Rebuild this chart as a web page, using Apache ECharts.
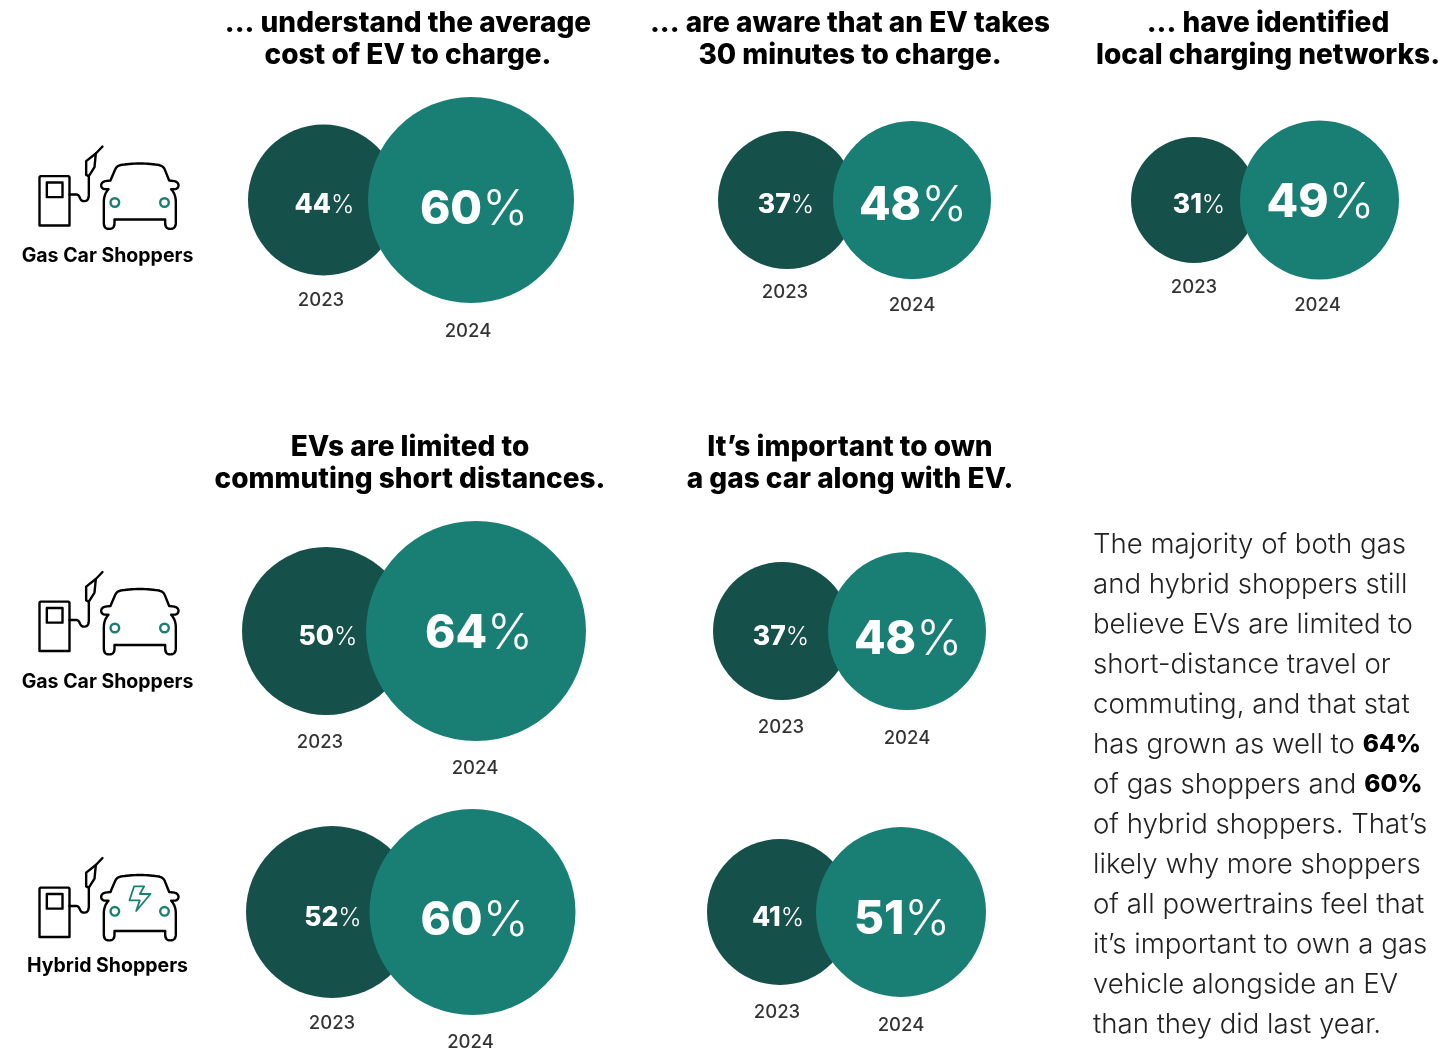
<!DOCTYPE html>
<html>
<head>
<meta charset="utf-8">
<style>html,body{margin:0;padding:0;background:#fff}#chart{width:1444px;height:1051px}</style>
<script src="https://cdn.jsdelivr.net/npm/echarts@6/dist/echarts.min.js"></script>
</head>
<body>
<div id="chart"></div>
<script>
// Survey results, share of shoppers agreeing in each year
const years = ['2023', '2024'];
const values2023 = [44, 37, 31, 50, 37, 52, 41];
const values2024 = [60, 48, 49, 64, 48, 60, 51];

const headings = [
  ['... understand the average', 'cost of EV to charge.'],
  ['... are aware that an EV takes', '30 minutes to charge.'],
  ['... have identified', 'local charging networks.'],
  ['EVs are limited to', 'commuting short distances.'],
  ['It\u2019s important to own', 'a gas car along with EV.']
];
const shopperLabels = ['Gas Car Shoppers', 'Gas Car Shoppers', 'Hybrid Shoppers'];
const bodyLines = [
  'The majority of both gas',
  'and hybrid shoppers still',
  'believe EVs are limited to',
  'short-distance travel or',
  'commuting, and that stat',
  'has grown as well to {b|64%}',
  'of gas shoppers and {b|60%}',
  'of hybrid shoppers. That\u2019s',
  'likely why more shoppers',
  'of all powertrains feel that',
  'it\u2019s important to own a gas',
  'vehicle alongside an EV',
  'than they did last year.'
];

// Panel layout: bubble centres, diameters, label nudges
const panelBox = [
  { c: [323.5, 471], y: 200, d: [151, 206], lab: [[1, 5], [3, 10]], yr: [[-2.5, 100], [-3, 131]] },
  { c: [787, 912], y: 200, d: [138, 158], lab: [[-1, 5], [1, 6]], yr: [[-2, 92], [0, 105]] },
  { c: [1194, 1319.5], y: 200, d: [126, 159], lab: [[5, 5], [1, 3]], yr: [[0, 87], [-2, 105]] },
  { c: [326, 476], y: 631, d: [168, 220], lab: [[2, 6], [3, 3]], yr: [[-6, 111], [-1, 137]] },
  { c: [782, 907], y: 631, d: [138, 158], lab: [[-1, 6], [1, 9]], yr: [[-1, 96], [0, 107]] },
  { c: [332, 472.5], y: 912, d: [172, 206], lab: [[1, 6], [2, 9]], yr: [[0, 111], [-2, 130]] },
  { c: [780, 901], y: 912, d: [146, 170], lab: [[-2, 6], [1, 8]], yr: [[-3, 100], [0, 113]] }
];
const smallSizes = { n: 26.5, p: 25 };
const largeSizes = { n: 46, p: 49 };
const colorDark = '#16504a';
const colorTeal = '#197f74';
const headFont = 'Inter';
const headCentres = [[408, 24], [850, 24], [1268, 24], [410, 448], [850, 448]];

// Icon outlines, drawn in a 3x local space
const pumpBody = 'M62 122 L142 122 C146 122 147 124 147 127 L147 270 L57 270 L57 127 C57 124 58 122 62 122 Z';
const pumpScreen = 'M79 141 L126 141 L126 185 L79 185 Z';
const pumpHose = 'M147 177 L168 177 C180 178 176 197 190 197 C203 197 205 188 205 175 L205 122';
const pumpNozzle = 'M197 77 L226 54 L222 95 L205 122 L197 118 Z';
const pumpTip = 'M226 54 L246 33';
const carOutline = 'M272 130 L285 100 C290 90 300 88 312 87 C340 83 376 83 404 87 C416 88 426 90 432 100 L446 135 L462 137 C478 140 478 160 462 161 L452 161 C462 172 466 185 466 200 L466 262 C466 276 458 280 450 280 C440 280 434 276 434 262 L434 252 L282 252 L282 262 C282 276 276 280 266 280 C256 280 250 276 250 262 L250 200 C250 185 254 172 264 161 L254 161 C238 160 238 140 254 137 L270 135 Z';
const boltOutline = 'M341 118 L371 118 L358 141 L390 141 L347 192 L358 160 L327 160 Z';

function flatten(path) {
  const t = path.match(/[MLCZ]|-?[\d.]+/g);
  const pts = [];
  let i = 0, cur = [0, 0];
  while (i < t.length) {
    const op = t[i++];
    if (op === 'M' || op === 'L') {
      cur = [+t[i++] / 3, +t[i++] / 3];
      pts.push(cur);
    } else if (op === 'C') {
      const p = [];
      for (let k = 0; k < 6; k++) p.push(+t[i++] / 3);
      const s = cur;
      for (let n = 1; n <= 12; n++) {
        const u = n / 12, v = 1 - u;
        pts.push([
          v*v*v*s[0] + 3*v*v*u*p[0] + 3*v*u*u*p[2] + u*u*u*p[4],
          v*v*v*s[1] + 3*v*v*u*p[1] + 3*v*u*u*p[3] + u*u*u*p[5]
        ]);
      }
      cur = [p[4], p[5]];
    } else if (op === 'Z') {
      pts.push(pts[0]);
    }
  }
  return pts;
}
function stroke(path, color, w) {
  return {
    type: 'polyline',
    shape: { points: flatten(path) },
    style: { fill: null, stroke: color || '#000', lineWidth: w || 2.4, lineJoin: 'round', lineCap: 'round' }
  };
}
function icon(oy, hybrid) {
  const wheel = cx => ({
    type: 'circle',
    shape: { cx: cx / 3, cy: (hybrid ? 193 : 201) / 3, r: 4.3 },
    style: { fill: null, stroke: colorTeal, lineWidth: 2.4 }
  });
  const kids = [stroke(pumpBody), stroke(pumpScreen), stroke(pumpHose), stroke(pumpNozzle), stroke(pumpTip),
    stroke(carOutline), wheel(283), wheel(432)];
  if (hybrid) kids.push(stroke(boltOutline, colorTeal, 1.8));
  return { type: 'group', x: 20.5, y: oy, children: kids };
}

const graphics = [];
headings.forEach((lines, i) => {
  lines.forEach((line, j) => {
    graphics.push({
      type: 'text', x: headCentres[i][0], y: headCentres[i][1] + j * 32,
      style: { text: line, fill: '#000', font: '800 28px ' + headFont, textAlign: 'center', textVerticalAlign: 'middle' }
    });
  });
});
[135.5, 561, 847].forEach((oy, i) => {
  graphics.push(icon(oy, i === 2));
  graphics.push({
    type: 'text', x: 107.5, y: [256.5, 682.5, 966.5][i],
    style: { text: shopperLabels[i], fill: '#000', font: '700 19.5px ' + headFont, textAlign: 'center', textVerticalAlign: 'middle' }
  });
});
bodyLines.forEach((line, i) => {
  graphics.push({
    type: 'text', x: 1093, y: 545 + i * 40,
    style: {
      text: line, fill: '#222', font: '300 27.6px ' + headFont, textAlign: 'left', textVerticalAlign: 'middle',
      rich: { b: { font: '800 24.5px ' + headFont, fill: '#000' } }
    }
  });
});

// One small grid per panel: the category axis places each year, bubble size follows its value
const grids = [], xAxes = [], yAxes = [], series = [];
panelBox.forEach((p, i) => {
  const step = p.c[1] - p.c[0];
  grids.push({ left: p.c[0] - step / 2, width: step * 2, top: p.y - 10, height: 20 });
  xAxes.push({ type: 'category', gridIndex: i, data: years, show: false, boundaryGap: true });
  yAxes.push({ type: 'value', gridIndex: i, min: -1, max: 1, show: false });
  const vals = [values2023[i], values2024[i]];
  const scale = [p.d[0] / vals[0], p.d[1] / vals[1]];
  series.push({
    name: 'panel-' + i,
    type: 'scatter',
    xAxisIndex: i, yAxisIndex: i,
    silent: true,
    data: vals.map((v, k) => {
      const fs = k === 0 ? smallSizes : largeSizes;
      return {
        value: [years[k], 0, v],
        symbolSize: v * scale[k],
        itemStyle: { color: k === 0 ? colorDark : colorTeal, opacity: 1 },
        label: {
          show: true, position: 'inside', offset: p.lab[k],
          formatter: '{n|' + v + '}{p|%}',
          rich: {
            n: { fontFamily: headFont, fontWeight: 800, fontSize: fs.n, color: '#fff' },
            p: { fontFamily: headFont, fontWeight: 300, fontSize: fs.p, color: '#fff' }
          }
        }
      };
    })
  });
  // Year captions sit beneath each bubble
  series.push({
    name: 'years-' + i,
    type: 'scatter',
    xAxisIndex: i, yAxisIndex: i,
    silent: true,
    symbolSize: 1,
    itemStyle: { color: 'transparent' },
    data: vals.map((v, k) => ({
      value: [years[k], 0, v],
      label: {
        show: true, position: 'inside', offset: p.yr[k], formatter: years[k],
        fontFamily: headFont, fontWeight: 500, fontSize: 18.5, color: '#000'
      }
    }))
  });
});

const chart = echarts.init(document.getElementById('chart'));
chart.setOption({
  animation: false,
  backgroundColor: '#fff',
  grid: grids, xAxis: xAxes, yAxis: yAxes, series: series,
  graphic: { elements: graphics }
});
</script>
</body>
</html>
